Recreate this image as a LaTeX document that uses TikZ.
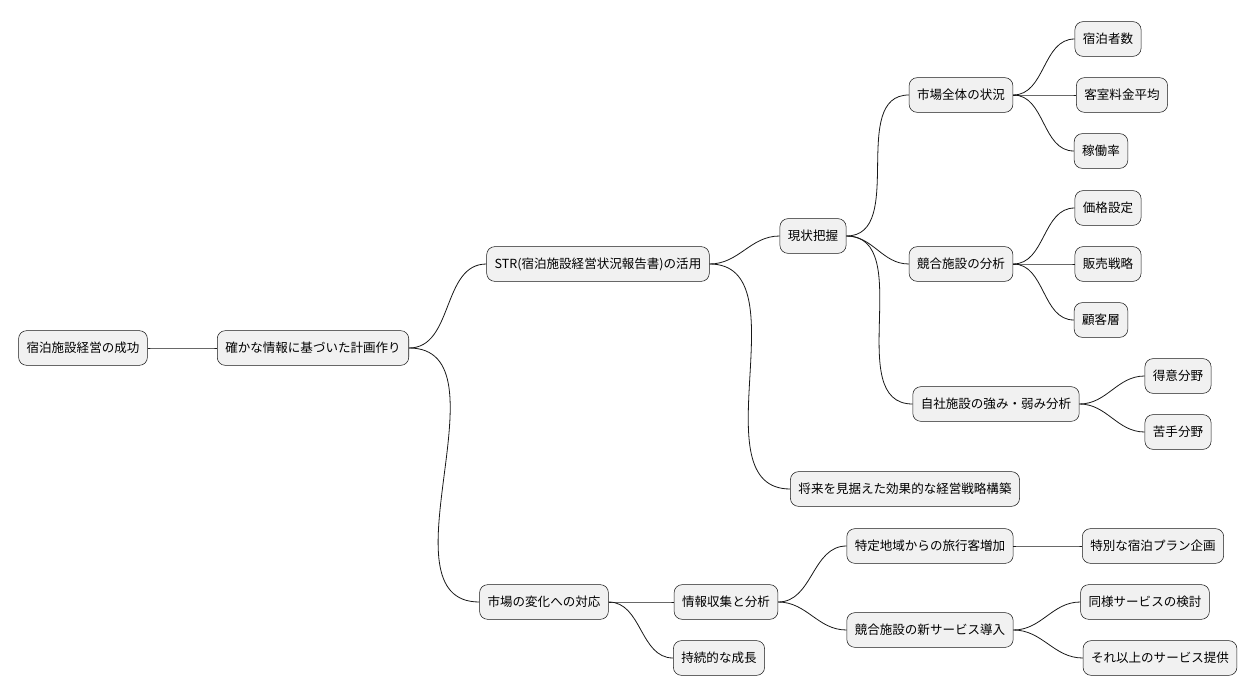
\documentclass[tikz,border=0pt]{standalone}
\usepackage{fontspec}
\setmainfont{Noto Sans CJK JP}
\usepackage{xcolor}
\definecolor{topicfill}{HTML}{F1F1F1}
\definecolor{linecolor}{HTML}{181818}

\tikzset{
  topic/.style={draw=linecolor, fill=topicfill, rounded corners=6pt, minimum height=26pt,
    inner xsep=6pt, font=\fontsize{9.4}{11}\selectfont},
  branch/.style={draw=linecolor, line width=0.6pt}
}

\begin{document}
\begin{tikzpicture}[x=0.75pt, y=-0.75pt]
  \useasboundingbox (0,0) rectangle (1258,696);

  % Root and first level
  \node[topic] (root) at (83,348) {宿泊施設経営の成功};
  \node[topic] (plan) at (313,348) {確かな情報に基づいた計画作り};
  \node[topic] (str) at (598,264) {STR(宿泊施設経営状況報告書)の活用};
  \node[topic] (change) at (544,602) {市場の変化への対応};

  % STR branch
  \node[topic] (now) at (813,236) {現状把握};
  \node[topic] (future) at (905,489) {将来を見据えた効果的な経営戦略構築};
  \node[topic] (market) at (961,95) {市場全体の状況};
  \node[topic] (rival) at (961,264) {競合施設の分析};
  \node[topic] (self) at (996,404) {自社施設の強み・弱み分析};

  % Market change branch
  \node[topic] (info) at (726,602) {情報収集と分析};
  \node[topic] (growth) at (719,658) {持続的な成長};
  \node[topic] (region) at (930,546) {特定地域からの旅行客増加};
  \node[topic] (newsvc) at (930,630) {競合施設の新サービス導入};

  % Leaves
  \foreach \n/\x/\y/\t/\p in {
      m1/1108/39/宿泊者数/market, m2/1122/95/客室料金平均/market, m3/1101/151/稼働率/market,
      r1/1108/208/価格設定/rival, r2/1108/264/販売戦略/rival, r3/1101/320/顧客層/rival,
      s1/1178/376/得意分野/self, s2/1178/432/苦手分野/self,
      g1/1153/546/特別な宿泊プラン企画/region,
      n1/1145/602/同様サービスの検討/newsvc, n2/1160/658/それ以上のサービス提供/newsvc} {
    \node[topic] (\n) at (\x,\y) {\t};
    \draw[branch] (\p.east) to[out=0, in=180] (\n.west);
  }

  % Inner connectors
  \foreach \a/\b in {root/plan, plan/str, plan/change, str/now, str/future,
      now/market, now/rival, now/self, change/info, change/growth,
      info/region, info/newsvc} {
    \draw[branch] (\a.east) to[out=0, in=180] (\b.west);
  }
\end{tikzpicture}
\end{document}
